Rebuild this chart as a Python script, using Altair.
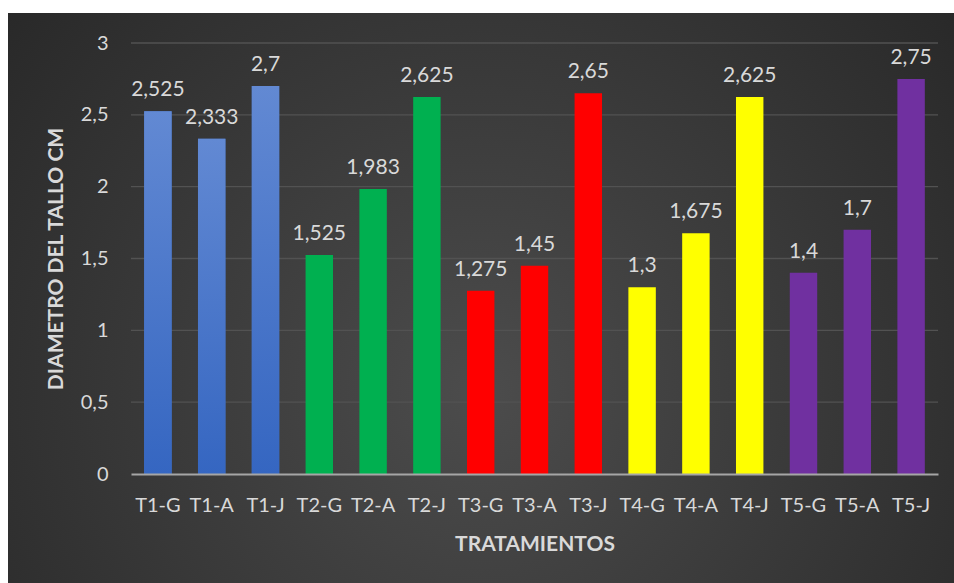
import altair as alt
import pandas as pd

categorias = ["T1-G", "T1-A", "T1-J", "T2-G", "T2-A", "T2-J", "T3-G", "T3-A", "T3-J",
              "T4-G", "T4-A", "T4-J", "T5-G", "T5-A", "T5-J"]
valores = [2.525, 2.333, 2.7, 1.525, 1.983, 2.625, 1.275, 1.45, 2.65,
           1.3, 1.675, 2.625, 1.4, 1.7, 2.75]
grupos = ["T1"] * 3 + ["T2"] * 3 + ["T3"] * 3 + ["T4"] * 3 + ["T5"] * 3
grupo_dom = ["T1", "T2", "T3", "T4", "T5"]
grupo_col = ["#4472C4", "#00B050", "#FF0000", "#FFFF00", "#7030A0"]
y_ticks = [0, 0.5, 1, 1.5, 2, 2.5, 3]

df = pd.DataFrame({"cat": categorias, "valor": valores, "grupo": grupos})
grid_df = pd.DataFrame({"t": y_ticks[1:]})

FONT = "Lato"
LBL = "#D9D9D9"

x_enc = alt.X("cat:N", sort=categorias, title="TRATAMIENTOS",
              scale=alt.Scale(paddingInner=0.49, paddingOuter=0.245),
              axis=alt.Axis(labelAngle=0, labelFontSize=20, labelColor=LBL, labelFont=FONT,
                            labelPadding=21, ticks=False, domainColor="#A6A6A6", domainWidth=2,
                            titleFontSize=21, titleFont=FONT, titleFontWeight="bold",
                            titleColor=LBL, titlePadding=18, zindex=1))
y_scale = alt.Scale(domain=[0, 3], nice=False)
y_enc = alt.Y("valor:Q", scale=y_scale, title="DIAMETRO DEL TALLO CM",
              axis=alt.Axis(values=y_ticks, grid=False, domain=False, ticks=False,
                            labelExpr="replace(toString(datum.value), '.', ',')",
                            labelFontSize=20, labelColor=LBL, labelFont=FONT, labelPadding=23,
                            titleFontSize=21, titleFont=FONT, titleFontWeight="bold",
                            titleColor=LBL, titlePadding=14, zindex=1))

bg = alt.Chart(pd.DataFrame({"a": [0]})).mark_rect(
    color=alt.Gradient(gradient="radial", x1=0.5, y1=0.6, r1=0, x2=0.5, y2=0.6, r2=0.75,
                       stops=[alt.GradientStop(offset=0, color="#4C4C4C"),
                              alt.GradientStop(offset=1, color="#232323")])
).encode(x=alt.value(-123), x2=alt.value(823), y=alt.value(-30), y2=alt.value(540))

grid = alt.Chart(grid_df).mark_rule(color="#525252", strokeWidth=1.3).encode(
    y=alt.Y("t:Q", scale=y_scale))

bars = alt.Chart(df).mark_bar().encode(
    x=x_enc, y=y_enc,
    color=alt.Color("grupo:N", scale=alt.Scale(domain=grupo_dom, range=grupo_col), legend=None))

blue = alt.Chart(df).transform_filter(alt.datum.grupo == "T1").mark_bar(
    color=alt.Gradient(gradient="linear", x1=0, y1=0, x2=0, y2=1,
                       stops=[alt.GradientStop(offset=0, color="#6289D3"),
                              alt.GradientStop(offset=1, color="#3566C1")])
).encode(x=alt.X("cat:N", sort=categorias), y=alt.Y("valor:Q", scale=y_scale))

labels = alt.Chart(df).transform_calculate(
    txt="replace(toString(datum.valor), '.', ',')"
).mark_text(baseline="bottom", dy=-11, fontSize=21, color=LBL, font=FONT).encode(
    x=alt.X("cat:N", sort=categorias), y=alt.Y("valor:Q", scale=y_scale), text="txt:N")

chart = alt.layer(bg, grid, bars, blue, labels).properties(
    width=807, height=431,
    padding={"left": 131, "top": 43, "right": 16, "bottom": 109},
    autosize="none", background="white"
).configure_view(stroke=None)

chart.save("out.html", embed_options={"renderer": "svg", "actions": False})
